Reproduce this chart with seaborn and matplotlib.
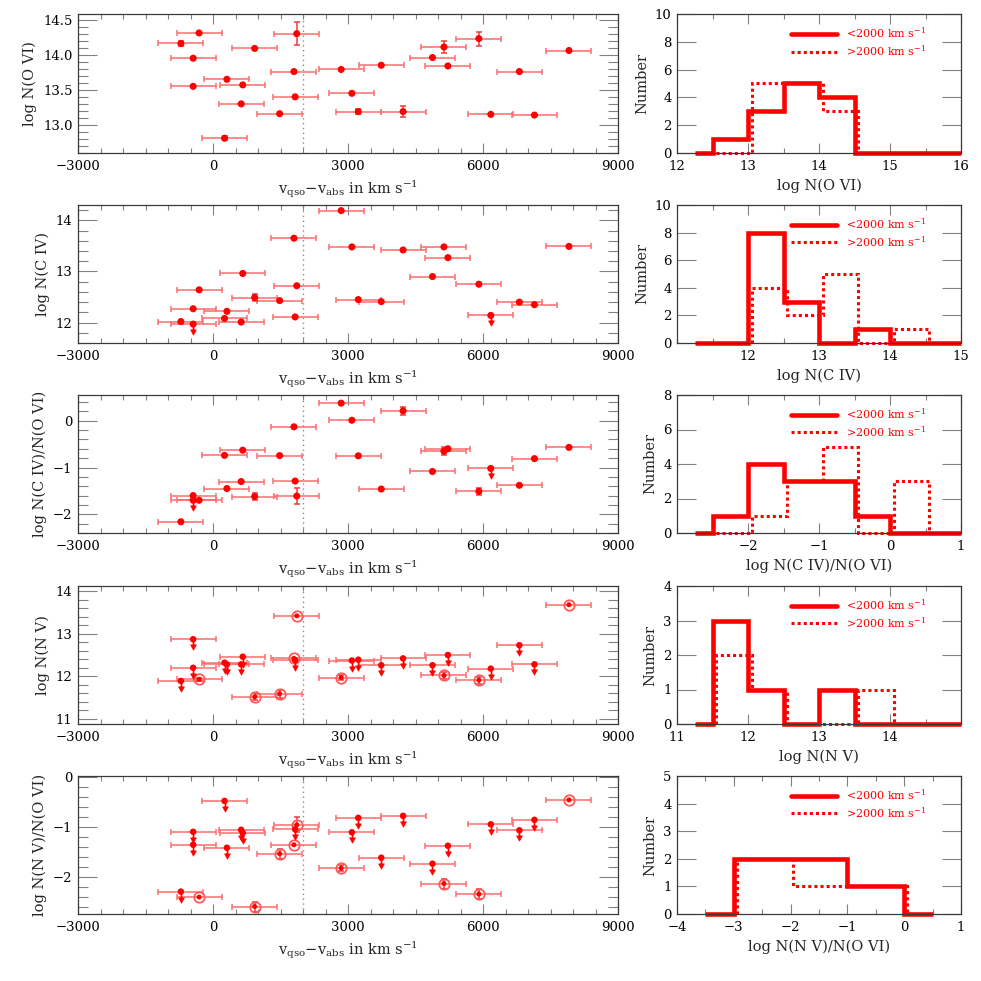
import numpy as np
import matplotlib.pyplot as plt
from matplotlib.path import Path
from matplotlib.ticker import MultipleLocator, FixedLocator
import seaborn as sns

sns.set_theme(style="ticks")
plt.rcParams['font.family'] = ['DejaVu Serif']
plt.rcParams['mathtext.fontset'] = 'dejavuserif'

# %% data
# v_qso - v_abs (km/s), one per absorber, same order in every panel
v_off = [-714, -441, -441, -309, 256, 309, 626, 661, 926, 1481, 1799, 1825, 1861,
         2848, 3086, 3228, 3739, 4224, 4877, 5132, 5220, 5908, 6173, 6808, 7143, 7910]
v_err = 500
v_split = 2000

n_ovi = [14.16, 13.95, 13.55, 14.31, 12.81, 13.65, 13.30, 13.57, 14.09, 13.16, 13.76, 13.40, 14.30,
         13.79, 13.45, 13.19, 13.85, 13.19, 13.96, 14.11, 13.84, 14.23, 13.15, 13.76, 13.14, 14.06]
n_ovi_err = [0.03, 0, 0, 0, 0.03, 0, 0, 0, 0, 0, 0, 0, 0.16,
             0, 0, 0.04, 0, 0.08, 0, 0.09, 0, 0.10, 0, 0, 0, 0]

n_civ = [12.02, 12.27, 11.97, 12.64, 12.08, 12.22, 12.01, 12.96, 12.49, 12.43, 13.65, 12.11, 12.72,
         14.19, 13.48, 12.45, 12.41, 13.42, 12.90, 13.48, 13.27, 12.75, 12.14, 12.40, 12.35, 13.49]
n_civ_err = [0, 0, 0, 0, 0, 0, 0, 0, 0.06, 0, 0, 0, 0,
             0, 0, 0, 0, 0, 0, 0, 0, 0, 0, 0, 0, 0]
civ_limit = [0, 0, 1, 0, 0, 0, 0, 0, 0, 0, 0, 0, 0,
             0, 0, 0, 0, 0, 0, 0, 0, 0, 1, 0, 0, 0]

civ_ovi = [-2.16, -1.60, -1.70, -1.70, -0.74, -1.45, -1.30, -0.63, -1.62, -0.745, -0.13, -1.29, -1.61,
           0.376, 0.01, -0.75, -1.46, 0.21, -1.085, -0.65, -0.60, -1.51, -1.02, -1.38, -0.81, -0.57]
civ_ovi_err = [0, 0, 0, 0, 0, 0, 0, 0, 0.08, 0, 0, 0, 0.17,
               0, 0, 0, 0, 0.08, 0, 0.08, 0, 0.08, 0, 0, 0, 0]

n_nv = [11.89, 12.87, 12.20, 11.93, 12.32, 12.28, 12.28, 12.46, 11.52, 11.59, 12.42, 12.38, 13.42,
        11.97, 12.37, 12.39, 12.26, 12.42, 12.26, 12.02, 12.50, 11.91, 12.18, 12.73, 12.28, 13.68]
n_nv_err = [0, 0, 0, 0.04, 0, 0, 0, 0, 0.08, 0.10, 0, 0, 0,
            0.05, 0, 0, 0, 0, 0, 0.08, 0, 0.08, 0, 0, 0, 0]
nv_ovi = [-2.29, -1.09, -1.35, -2.40, -0.47, -1.41, -1.05, -1.11, -2.59, -1.53, -1.35, -1.04, -0.95,
          -1.82, -1.10, -0.81, -1.61, -0.77, -1.73, -2.13, -1.37, -2.34, -0.94, -1.06, -0.85, -0.45]
nv_ovi_err = [0, 0, 0, 0, 0, 0, 0, 0, 0.10, 0.10, 0, 0, 0.15,
              0.06, 0, 0, 0, 0, 0, 0.10, 0, 0.10, 0, 0, 0, 0]
nv_detected = [0, 0, 0, 1, 0, 0, 0, 0, 1, 1, 1, 0, 1,
               1, 0, 0, 0, 0, 0, 1, 0, 1, 0, 0, 0, 1]

# histograms: counts per bin, <2000 km/s (solid) and >2000 km/s (dotted)
ovi_edges_lo = [12.25, 12.5, 13.0, 13.5, 14.0, 14.5, 16.0]
ovi_hist_lo = [0, 1, 3, 5, 4, 0]
ovi_edges_hi = [12.5, 13.0, 13.5, 14.0, 14.5]
ovi_hist_hi = [0, 5, 5, 3]

civ_edges_lo = [11.25, 12.0, 12.5, 13.0, 13.5, 14.0, 15.0]
civ_hist_lo = [0, 8, 3, 0, 1, 0]
civ_edges_hi = [12.0, 12.5, 13.0, 13.5, 14.0, 14.5]
civ_hist_hi = [4, 2, 5, 0, 1]

cio_edges_lo = [-2.75, -2.5, -2.0, -1.5, -1.0, -0.5, 0.0, 1.0]
cio_hist_lo = [0, 1, 4, 3, 3, 1, 0]
cio_edges_hi = [-2.5, -2.0, -1.5, -1.0, -0.5, 0.0, 0.5]
cio_hist_hi = [0, 1, 3, 5, 0, 3]

nv_edges_lo = [11.25, 11.5, 12.0, 12.5, 13.0, 13.5, 15.0]
nv_hist_lo = [0, 3, 1, 0, 1, 0]
nv_edges_hi = [11.5, 12.0, 12.5, 13.0, 13.5, 14.0]
nv_hist_hi = [2, 1, 0, 0, 1]

nvo_edges_lo = [-3.5, -3.0, -2.0, -1.0, 0.0, 0.5]
nvo_hist_lo = [0, 2, 2, 1, 0]
nvo_edges_hi = [-3.0, -2.0, -1.0, 0.0]
nvo_hist_hi = [2, 1, 1]

# %% styling helpers
RED = '#ff0000'
DOT_SHIFT = 0.05
VLABEL = r'v$_{\rm qso}$$-$v$_{\rm abs}$ in km s$^{-1}$'

# upper-limit marker: stem plus down-pointing head, origin at the data point
ARROW = Path([(-0.1, 0), (0.1, 0), (0.1, -1.0), (-0.1, -1.0), (0, 0),
              (-0.55, -1.0), (0.55, -1.0), (0, -2.0), (0, 0)],
             [Path.MOVETO, Path.LINETO, Path.LINETO, Path.LINETO, Path.CLOSEPOLY,
              Path.MOVETO, Path.LINETO, Path.LINETO, Path.CLOSEPOLY])


def style_axes(ax):
    for sp in ax.spines.values():
        sp.set_visible(True)
        sp.set_color('#3a3a3a')
        sp.set_linewidth(0.9)
    ax.tick_params(which='both', direction='in', top=True, right=True,
                   color='#808080', width=0.8, labelsize=9.5, labelcolor='black')
    ax.tick_params(axis='x', which='major', length=7, pad=5)
    ax.tick_params(axis='x', which='minor', length=3.5)
    ax.tick_params(axis='y', which='major', length=14, pad=4)
    ax.tick_params(axis='y', which='minor', length=7)
    ax.xaxis.label.set_size(10.5)
    ax.yaxis.label.set_size(10.5)


def velocity_panel(ax, vals, errs, upper, ylim, ymajor, yminor, ylabel, rings=False):
    x = np.asarray(v_off, float)
    y = np.asarray(vals, float)
    e = np.asarray(errs, float)
    ul = np.asarray(upper, bool)

    ax.axvline(v_split, color='#8a8a8a', ls=(0, (1, 2.5)), lw=1.0, zorder=1)
    ax.errorbar(x, y, xerr=v_err, fmt='none', ecolor='#ff6e6e', elinewidth=1.1,
                capsize=2.3, capthick=1.1, zorder=2)
    has = e > 0
    ax.errorbar(x[has], y[has], yerr=e[has], fmt='none', ecolor='#f03a3a',
                elinewidth=1.1, capsize=2.3, capthick=1.1, zorder=2)

    if rings:
        det = ~ul
        ax.plot(x[det], y[det], ls='none', marker='o', ms=7.5, mfc='none',
                mec='#ff5a5a', mew=1.3, zorder=3)
        sns.scatterplot(x=x[det], y=y[det], ax=ax, color=RED, s=13, edgecolor='none',
                        zorder=4, legend=False)
        sns.scatterplot(x=x[ul], y=y[ul], ax=ax, color=RED, s=22, edgecolor='none',
                        zorder=4, legend=False)
    else:
        sns.scatterplot(x=x, y=y, ax=ax, color=RED, s=26, edgecolor='none',
                        zorder=4, legend=False)
    ax.plot(x[ul], y[ul], ls='none', marker=ARROW, ms=15.5, color=RED, mec=RED,
            mew=0.4, zorder=4)

    ax.set_xlim(-3000, 9000)
    ax.set_ylim(*ylim)
    ax.xaxis.set_major_locator(MultipleLocator(3000))
    ax.xaxis.set_minor_locator(MultipleLocator(500))
    ax.yaxis.set_major_locator(MultipleLocator(ymajor))
    ax.yaxis.set_minor_locator(MultipleLocator(yminor))
    ax.set_xlabel(VLABEL)
    ax.set_ylabel(ylabel)
    style_axes(ax)


def hist_panel(ax, e_lo, n_lo, e_hi, n_hi, xlim, xticks, ymax, ystep, xlabel):
    h_hi = ax.stairs(n_hi, np.asarray(e_hi) + DOT_SHIFT, baseline=0, color=RED, lw=2.2,
                     ls=(0, (1, 1)), clip_on=False, label=r'>2000 km s$^{-1}$')
    h_lo = ax.stairs(n_lo, e_lo, baseline=None, color=RED, lw=3.3, clip_on=False,
                     label=r'<2000 km s$^{-1}$')
    ax.set_xlim(*xlim)
    ax.set_ylim(0, ymax)
    ax.xaxis.set_major_locator(FixedLocator(xticks))
    ax.xaxis.set_minor_locator(MultipleLocator(0.5))
    ax.yaxis.set_major_locator(MultipleLocator(ystep))
    ax.set_xlabel(xlabel)
    ax.set_ylabel('Number')
    style_axes(ax)
    ax.legend(handles=[h_lo, h_hi], loc='upper left', bbox_to_anchor=(0.40, 0.915),
              frameon=False, fontsize=8, labelcolor=RED, handlelength=4.2,
              handletextpad=0.8, borderpad=0, borderaxespad=0, labelspacing=0.25)


# %% layout (pixel boxes of the 981 px canvas)
FIG = 981.0


def box(x0, x1, y0, y1):
    return [x0 / FIG, 1 - y1 / FIG, (x1 - x0) / FIG, (y1 - y0) / FIG]


rows = [(14, 153), (205, 343), (395, 533), (586, 724), (776, 914)]
left = [box(78, 618, *r) for r in rows]
right = [box(677, 961, *r) for r in rows]

fig = plt.figure(figsize=(9.81, 9.81), dpi=100)
fig.patch.set_facecolor('white')

ax = fig.add_axes(left[0])
velocity_panel(ax, n_ovi, n_ovi_err, [0] * len(v_off), (12.6, 14.58), 0.5, 0.1, 'log N(O VI)')
ax = fig.add_axes(left[1])
velocity_panel(ax, n_civ, n_civ_err, civ_limit, (11.6, 14.3), 1, 0.2, 'log N(C IV)')
ax = fig.add_axes(left[2])
velocity_panel(ax, civ_ovi, civ_ovi_err, civ_limit, (-2.4, 0.55), 1, 0.2, 'log N(C IV)/N(O VI)')
nv_limit = [1 - d for d in nv_detected]
ax = fig.add_axes(left[3])
velocity_panel(ax, n_nv, n_nv_err, nv_limit, (10.88, 14.12), 1, 0.2, 'log N(N V)', rings=True)
ax = fig.add_axes(left[4])
velocity_panel(ax, nv_ovi, nv_ovi_err, nv_limit, (-2.74, 0.03), 1, 0.2, 'log N(N V)/N(O VI)', rings=True)

ax = fig.add_axes(right[0])
hist_panel(ax, ovi_edges_lo, ovi_hist_lo, ovi_edges_hi, ovi_hist_hi, (12, 16),
           [12, 13, 14, 15, 16], 10, 2, 'log N(O VI)')
ax = fig.add_axes(right[1])
hist_panel(ax, civ_edges_lo, civ_hist_lo, civ_edges_hi, civ_hist_hi, (11, 15),
           [12, 13, 14, 15], 10, 2, 'log N(C IV)')
ax = fig.add_axes(right[2])
hist_panel(ax, cio_edges_lo, cio_hist_lo, cio_edges_hi, cio_hist_hi, (-3, 1),
           [-2, -1, 0, 1], 8, 2, 'log N(C IV)/N(O VI)')
ax = fig.add_axes(right[3])
hist_panel(ax, nv_edges_lo, nv_hist_lo, nv_edges_hi, nv_hist_hi, (11, 15),
           [11, 12, 13, 14], 4, 1, 'log N(N V)')
ax = fig.add_axes(right[4])
hist_panel(ax, nvo_edges_lo, nvo_hist_lo, nvo_edges_hi, nvo_hist_hi, (-4, 1),
           [-4, -3, -2, -1, 0, 1], 5, 1, 'log N(N V)/N(O VI)')

fig.savefig('out.png', dpi=100)
